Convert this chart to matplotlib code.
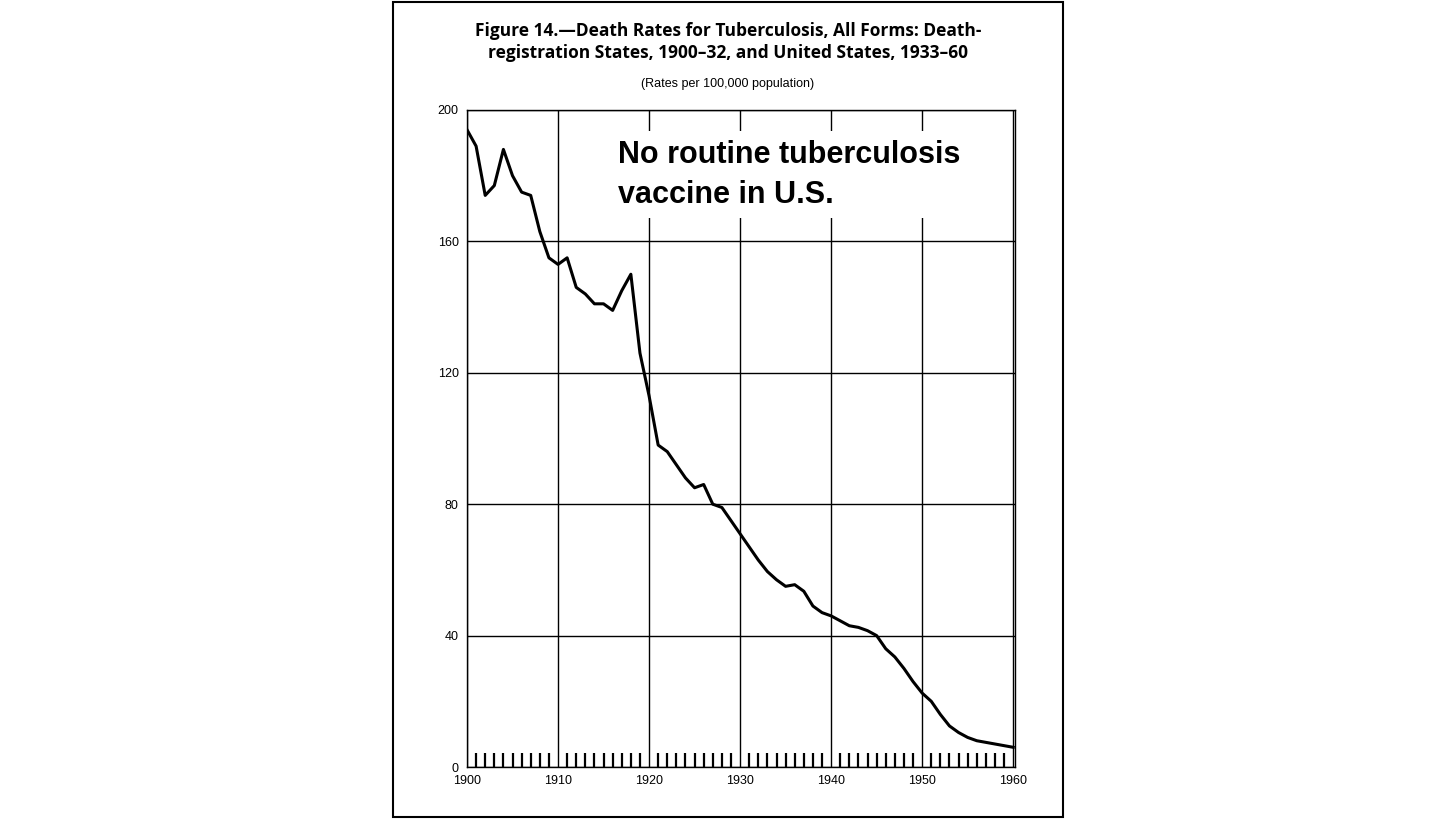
import numpy as np
import matplotlib.pyplot as plt
from matplotlib.patches import Rectangle

years = list(range(1900, 1961))
rates = [194, 189, 174, 177, 188, 180, 175, 174, 163, 155,
         153, 155, 146, 144, 141, 141, 139, 145, 150, 126,
         113, 98, 96, 92, 88, 85, 86, 80, 79, 75,
         71, 67, 63, 59.5, 57, 55, 55.5, 53.5, 49, 47,
         46, 44.5, 43, 42.5, 41.5, 40, 36, 33.5, 30, 26,
         22.5, 20, 16, 12.5, 10.5, 9, 8, 7.5, 7, 6.5,
         6]
yticks = [0, 40, 80, 120, 160, 200]
xticks = [1900, 1910, 1920, 1930, 1940, 1950, 1960]

fig = plt.figure(figsize=(14.56, 8.19), dpi=100)
fig.patches.append(Rectangle((393/1456, 2/819), 670/1456, 815/819, transform=fig.transFigure,
                             fill=False, edgecolor='black', linewidth=1.5))

ax = fig.add_axes([467/1456, 52/819, 548/1456, 657/819])
ax.plot(years, rates, color='black', linewidth=2.2, zorder=3)
ax.set_xlim(1900, 1960.2)
ax.set_ylim(0, 200)
ax.set_yticks(yticks)
ax.set_xticks(xticks)
ax.set_xticklabels([str(x) for x in xticks], fontsize=9, family='Liberation Sans')
ax.set_yticklabels([str(y) for y in yticks], fontsize=9, family='Liberation Sans')
ax.tick_params(axis='both', length=0, pad=6)
ax.set_xticks(years, minor=True)
ax.tick_params(axis='x', which='minor', direction='in', length=10, width=1.6, color='black')
ax.grid(True, which='major', color='black', linewidth=1.0)
for s in ax.spines.values():
    s.set_linewidth(1.0)

ax.text(0.275, 0.955, "No routine tuberculosis\nvaccine in U.S.", transform=ax.transAxes,
        ha='left', va='top', fontsize=22, fontweight='bold', family='Liberation Sans',
        linespacing=1.45, zorder=4,
        bbox=dict(facecolor='white', edgecolor='none', pad=6))

fig.text(728/1456, 1 - 42/819,
         "Figure 14.\u2014Death Rates for Tuberculosis, All Forms: Death-\nregistration States, 1900\u201332, and United States, 1933\u201360",
         ha='center', va='center', fontsize=12.5, fontweight='bold', family='Open Sans', linespacing=1.3)
fig.text(728/1456, 1 - 84/819, "(Rates per 100,000 population)", ha='center', va='center',
         fontsize=9, family='Liberation Sans')

fig.savefig('out.png', dpi=100)
